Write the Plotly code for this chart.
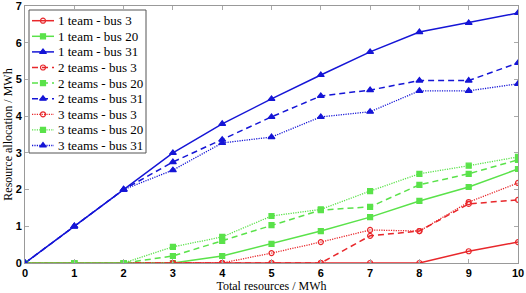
import plotly.graph_objects as go

x = [0, 1, 2, 3, 4, 5, 6, 7, 8, 9, 10]

t1_bus3  = [0, 0, 0, 0, 0, 0, 0, 0, 0, 0.32, 0.57]
t1_bus20 = [0, 0, 0, 0, 0.19, 0.52, 0.87, 1.25, 1.69, 2.07, 2.56]
t1_bus31 = [0, 1, 2, 3, 3.79, 4.47, 5.12, 5.75, 6.29, 6.54, 6.81]
t2_bus3  = [0, 0, 0, 0, 0, 0, 0, 0.74, 0.87, 1.61, 1.72]
t2_bus20 = [0, 0, 0, 0.19, 0.60, 1.03, 1.44, 1.53, 2.13, 2.43, 2.81]
t2_bus31 = [0, 1, 2, 2.75, 3.36, 3.98, 4.55, 4.71, 4.97, 4.97, 5.45]
t3_bus3  = [0, 0, 0, 0, 0, 0.27, 0.57, 0.90, 0.87, 1.66, 2.18]
t3_bus20 = [0, 0, 0, 0.44, 0.71, 1.28, 1.46, 1.96, 2.43, 2.65, 2.89]
t3_bus31 = [0, 1, 2, 2.53, 3.27, 3.43, 3.98, 4.12, 4.69, 4.69, 4.88]

y_ticks = [0, 1, 2, 3, 4, 5, 6, 7]

names = ["1 team - bus 3", "1 team - bus 20", "1 team - bus 31",
         "2 teams - bus 3", "2 teams - bus 20", "2 teams - bus 31",
         "3 teams - bus 3", "3 teams - bus 20", "3 teams - bus 31"]
series = [t1_bus3, t1_bus20, t1_bus31, t2_bus3, t2_bus20, t2_bus31, t3_bus3, t3_bus20, t3_bus31]

RED = "#e8272b"
GREEN = "#5ae24a"
BLUE = "#1515d6"
colors = [RED, GREEN, BLUE] * 3
dashes = ["solid"] * 3 + ["6px,4px"] * 3 + ["1.2px,1.2px"] * 3
widths = [1.5] * 3 + [1.5] * 3 + [1.3] * 3
symbols = ["circle-open", "square", "triangle-up"] * 3
sizes = [5, 5, 6] * 3

fig = go.Figure()
for n, y, c, d, w, s, sz in zip(names, series, colors, dashes, widths, symbols, sizes):
    fig.add_trace(go.Scatter(
        x=x, y=y, name=n, mode="lines+markers", showlegend=False,
        line=dict(color=c, dash=d, width=w),
        marker=dict(symbol=s, size=sz, color=c, line=dict(color=c, width=1.2)),
    ))

# ---- custom legend (drawn in plot-domain fractions) ----
L, R, T, B = 25, 518, 6, 263          # plot area in pixels
PW, PH = R - L, B - T
def fx(px):
    return (px - L) / PW
def fy(py):
    return (B - py) / PH

fig.add_shape(type="rect", xref="x domain", yref="y domain",
              x0=fx(29), x1=fx(146), y0=fy(153), y1=fy(10),
              fillcolor="white", line=dict(color="#555555", width=1), layer="below")

for i, (n, c, d, w, s, sz) in enumerate(zip(names, colors, dashes, widths, symbols, sizes)):
    py = 20.7 + 15.6 * i
    fig.add_shape(type="line", xref="x domain", yref="y domain",
                  x0=fx(32), x1=fx(54), y0=fy(py), y1=fy(py),
                  line=dict(color=c, dash=d, width=w), layer="below")
    fig.add_annotation(xref="x domain", yref="y domain", x=fx(56), y=fy(py),
                       text=n, showarrow=False, xanchor="left", yanchor="middle",
                       font=dict(family="Liberation Serif", size=13, color="black"))
    fig.add_trace(go.Scatter(
        x=[fx(43)], y=[fy(py)], xaxis="x2", yaxis="y2", mode="markers",
        showlegend=False, hoverinfo="skip",
        marker=dict(symbol=s, size=sz, color=c, line=dict(color=c, width=1.2)),
    ))

axis_common = dict(
    ticks="inside", ticklen=4, tickcolor="#aaaaaa",
    showline=True, linecolor="#999999", linewidth=1, mirror="ticks",
    showgrid=False, zeroline=False, automargin=False, ticklabeloverflow="allow",
    tickfont=dict(family="Liberation Sans", size=11, color="black", weight="bold"),
)

fig.update_layout(
    width=526, height=293,
    margin=dict(l=L, r=526 - R, t=T, b=293 - B),
    paper_bgcolor="white", plot_bgcolor="white",
    showlegend=False,
    xaxis=dict(
        range=[0, 10], tickmode="array", tickvals=x,
        title=dict(text="Total resources / MWh", standoff=0,
                   font=dict(family="Liberation Serif", size=12, color="black")),
        **axis_common,
    ),
    yaxis=dict(
        range=[0, 7], tickmode="array", tickvals=y_ticks,
        title=dict(text="Resource allocation / MWh", standoff=0,
                   font=dict(family="Liberation Serif", size=12, color="black")),
        **axis_common,
    ),
    xaxis2=dict(overlaying="x", range=[0, 1], visible=False, fixedrange=True),
    yaxis2=dict(overlaying="y", range=[0, 1], visible=False, fixedrange=True),
)

fig.write_html("out.html", config={"displayModeBar": False},
               post_script="document.body.style.margin='0px';")
